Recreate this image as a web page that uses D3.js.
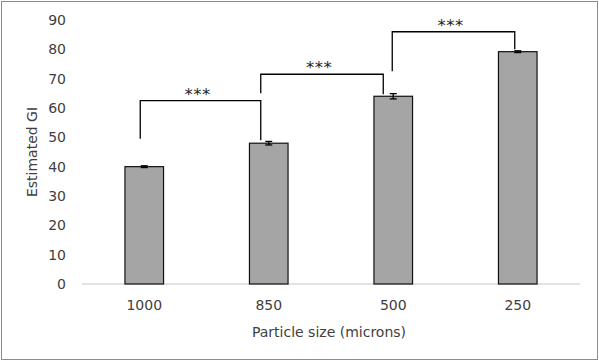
<!DOCTYPE html>
<html><head><meta charset="utf-8">
<script src="https://cdn.jsdelivr.net/npm/d3@7"></script>
<style>body{margin:0;background:#fff}svg{display:block}</style>
</head><body>
<script>
// Data
const categories = ["1000", "850", "500", "250"];
const values = [40, 48, 64, 79.2];
const errors = [0.3, 0.6, 0.9, 0.3];
const yTicks = [0, 10, 20, 30, 40, 50, 60, 70, 80, 90];
// significance brackets: from, to, top value, left leg bottom, right leg bottom, label
const bracketFrom = ["1000", "850", "500"];
const bracketTo = ["850", "500", "250"];
const bracketTop = [62.5, 71.5, 86];
const bracketLeftBottom = [49.5, 65, 72.5];
const bracketRightBottom = [49, 64.7, 80];
const bracketLabels = ["***", "***", "***"];

const W = 599, H = 361;
const margin = {left: 82, right: 19, top: 20, bottom: 77};
const svg = d3.select("body").append("svg").attr("width", W).attr("height", H);
const font = "DejaVu Sans, Verdana, sans-serif";

svg.append("rect").attr("x", 1.5).attr("y", 1.5).attr("width", W - 3).attr("height", H - 3)
  .attr("fill", "#fff").attr("stroke", "#8c8c8c").attr("stroke-width", 1);

const x = d3.scaleBand().domain(categories).range([margin.left, W - margin.right]).paddingInner(0.69).paddingOuter(0.345);
const y = d3.scaleLinear().domain([0, 90]).range([H - margin.bottom, margin.top]);

// y axis (labels only)
const yAxis = d3.axisLeft(y).tickValues(yTicks).tickSize(0).tickPadding(0);
const gy = svg.append("g").attr("transform", `translate(66,0)`).call(yAxis);
gy.select(".domain").remove();
gy.selectAll("text").attr("font-family", font).attr("font-size", 14).attr("fill", "#404040");

// baseline
svg.append("line").attr("x1", margin.left).attr("x2", W - margin.right)
  .attr("y1", y(0)).attr("y2", y(0)).attr("stroke", "#d9d9d9").attr("stroke-width", 1.5);

// x axis labels
const xAxis = d3.axisBottom(x).tickSize(0).tickPadding(0);
const gx = svg.append("g").attr("transform", `translate(0,${y(0) + 16})`).call(xAxis);
gx.select(".domain").remove();
gx.selectAll("text").attr("font-family", font).attr("font-size", 14).attr("fill", "#404040");

// bars
svg.append("g").selectAll("rect").data(categories).join("rect")
  .attr("x", d => x(d)).attr("width", x.bandwidth())
  .attr("y", (d, i) => y(values[i])).attr("height", (d, i) => y(0) - y(values[i]))
  .attr("fill", "#a5a5a5").attr("stroke", "#111").attr("stroke-width", 1.2);

// error bars
const eb = svg.append("g").attr("stroke", "#000").attr("stroke-width", 1.3);
categories.forEach((c, i) => {
  const cx = x(c) + x.bandwidth() / 2;
  const y1 = y(values[i] + errors[i]), y2 = y(values[i] - errors[i]);
  eb.append("line").attr("x1", cx).attr("x2", cx).attr("y1", y1).attr("y2", y2);
  eb.append("line").attr("x1", cx - 3.5).attr("x2", cx + 3.5).attr("y1", y1).attr("y2", y1);
  eb.append("line").attr("x1", cx - 3.5).attr("x2", cx + 3.5).attr("y1", y2).attr("y2", y2);
});

// brackets
const legOffsetL = [-4, -8, -1];
const legOffsetR = [-8, -10, -3];
const bg = svg.append("g");
bracketFrom.forEach((f, i) => {
  const xl = x(f) + x.bandwidth() / 2 + legOffsetL[i];
  const xr = x(bracketTo[i]) + x.bandwidth() / 2 + legOffsetR[i];
  const yt = y(bracketTop[i]);
  bg.append("path")
    .attr("d", `M${xl},${y(bracketLeftBottom[i])}V${yt}H${xr}V${y(bracketRightBottom[i])}`)
    .attr("fill", "none").attr("stroke", "#000").attr("stroke-width", 1.3);
  bg.append("text").attr("x", (xl + xr) / 2 - 3).attr("y", yt - 1)
    .attr("text-anchor", "middle").attr("font-family", font).attr("font-size", 16.5)
    .attr("letter-spacing", 0.5).attr("fill", "#222").text(bracketLabels[i]);
});

// axis titles
svg.append("text").attr("transform", `translate(37,${(y(0) + y(90)) / 2}) rotate(-90)`)
  .attr("text-anchor", "middle").attr("font-family", font).attr("font-size", 14)
  .attr("fill", "#404040").text("Estimated GI");
svg.append("text").attr("x", (margin.left + W - margin.right) / 2 - 2).attr("y", 337)
  .attr("text-anchor", "middle").attr("font-family", font).attr("font-size", 14)
  .attr("fill", "#404040").text("Particle size (microns)");
</script>
</body></html>
